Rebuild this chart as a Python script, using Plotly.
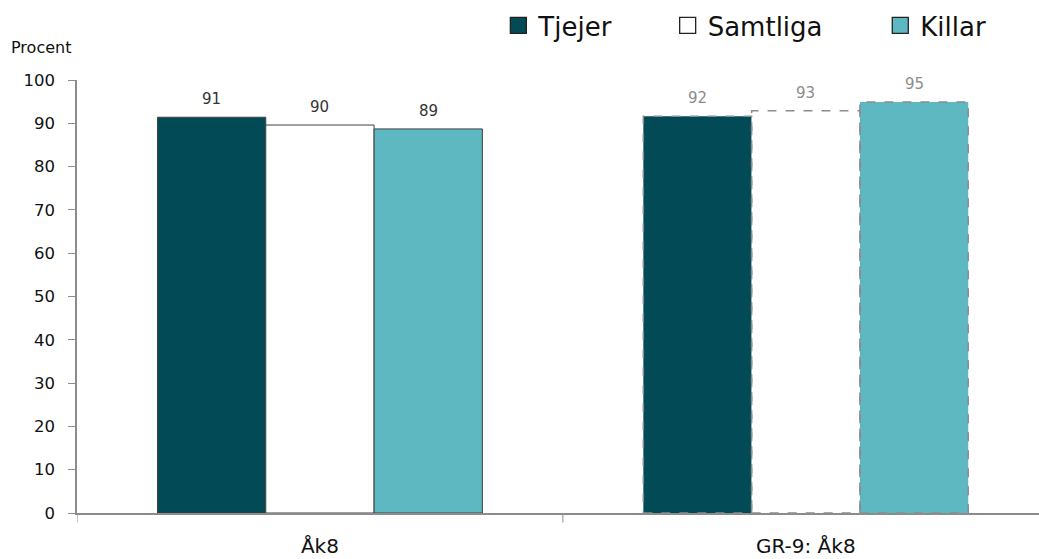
import plotly.graph_objects as go

categories = ["Åk8", "GR-9: Åk8"]
series_names = ["Tjejer", "Samtliga", "Killar"]
tjejer = [91.4, 91.6]
samtliga = [89.6, 92.9]
killar = [88.7, 94.9]
y_ticks = [0, 10, 20, 30, 40, 50, 60, 70, 80, 90, 100]

series_values = [tjejer, samtliga, killar]
fill_colors = ["#024A55", "#FFFFFF", "#5EB8C2"]
label_colors = ["#333333", "#8C8C8C"]
dashed_group = [False, True]

bar_w = 0.2229
font_main = "Verdana, DejaVu Sans, sans-serif"
legend_ids = ["legend", "legend2", "legend3"]
legend_x = [0.438, 0.614, 0.835]

fig = go.Figure()
xs = list(range(len(categories)))
annotations = []
for k, (name, vals, col) in enumerate(zip(series_names, series_values, fill_colors)):
    off = (k - 1.5) * bar_w
    fig.add_trace(go.Bar(
        name=name, x=xs, y=vals, width=bar_w, offset=off,
        marker=dict(color=col,
                    line=dict(color=["#404040" if not d else "rgba(0,0,0,0)" for d in dashed_group],
                              width=1)),
        showlegend=False, hoverinfo="skip",
    ))
    # legend entry
    fig.add_trace(go.Scatter(
        name=name, x=[None], y=[None], mode="markers",
        marker=dict(symbol="square", size=16, color=col, line=dict(color="#222222", width=1.3)),
        showlegend=True, legend=legend_ids[k],
    ))
    for i, v in enumerate(vals):
        # value label above each bar
        annotations.append(dict(
            x=i + off + bar_w / 2, y=v, xref="x", yref="y", text=f"{v:.0f}",
            showarrow=False, yanchor="bottom", yshift=7,
            font=dict(size=15, family=font_main, color=label_colors[i])))
        # dashed outlines for the dashed group(s)
        if dashed_group[i]:
            fig.add_shape(type="rect", xref="x", yref="y",
                          x0=i + off, x1=i + off + bar_w, y0=0, y1=v,
                          line=dict(color="#8C8C8C", width=1.5, dash="dash"),
                          layer="above")

annotations.append(dict(text="Procent", xref="paper", yref="paper", x=-0.071, y=1.048,
                        xanchor="left", yanchor="bottom", showarrow=False,
                        font=dict(size=16, family=font_main, color="#111111")))

legend_style = dict(font=dict(size=26, family=font_main, color="#111111"),
                    y=1.18, yanchor="top", xanchor="left", itemwidth=30,
                    bgcolor="rgba(0,0,0,0)")

fig.update_layout(
    width=1039, height=559,
    margin=dict(l=77, r=0, t=80, b=46, autoexpand=False),
    plot_bgcolor="white", paper_bgcolor="white",
    barmode="overlay",
    font=dict(family=font_main, color="#111111"),
    legend=dict(x=legend_x[0], **legend_style),
    legend2=dict(x=legend_x[1], **legend_style),
    legend3=dict(x=legend_x[2], **legend_style),
    xaxis=dict(
        tickmode="array", tickvals=xs, ticktext=categories,
        range=[-0.5, 1.48], showline=True, linecolor="#8C8C8C", linewidth=2,
        ticks="", showgrid=False, zeroline=False, automargin=False,
        ticklabelstandoff=14,
        tickfont=dict(size=20, family=font_main, color="#111111"),
    ),
    yaxis=dict(
        range=[0, 100], tickvals=y_ticks, showline=True, linecolor="#8C8C8C", linewidth=1.5,
        ticks="outside", ticklen=7, tickcolor="#8C8C8C", showgrid=False, zeroline=False,
        automargin=False, ticklabelstandoff=10,
        tickfont=dict(size=16.5, family=font_main, color="#111111"),
    ),
    annotations=annotations,
)

# category boundary tick marks on the x axis
for b in [-0.5, 0.5]:
    fig.add_shape(type="line", xref="x", yref="paper", x0=b, x1=b, y0=0, y1=-0.022,
                  line=dict(color="#8C8C8C", width=1))

fig.write_html("out.html", config={"displayModeBar": False},
               post_script="document.body.style.margin='0';document.body.style.overflow='hidden';")
